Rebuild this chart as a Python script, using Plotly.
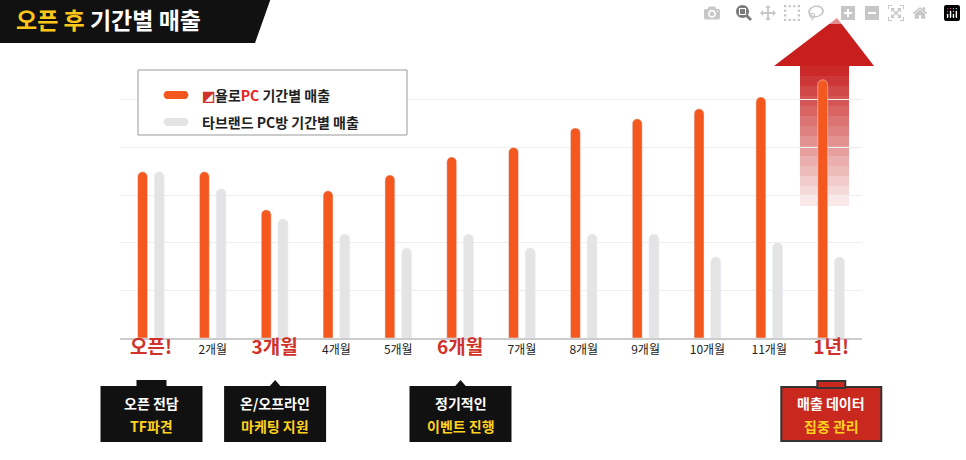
import plotly.graph_objects as go

months = ["오픈!", "2개월", "3개월", "4개월", "5개월", "6개월",
          "7개월", "8개월", "9개월", "10개월", "11개월", "1년!"]
yolo_sales = [3.49, 3.49, 2.69, 3.09, 3.42, 3.80, 4.00, 4.41, 4.60, 4.81, 5.06, 5.42]
other_sales = [3.49, 3.13, 2.50, 2.18, 1.89, 2.18, 1.89, 2.18, 2.18, 1.70, 2.00, 1.70]
highlight = {"오픈!", "3개월", "6개월", "1년!"}
callouts = [(0, "오픈 전담", "TF파견"), (2, "온/오프라인", "마케팅 지원"),
            (5, "정기적인", "이벤트 진행"), (11, "매출 데이터", "집중 관리")]

W, H = 966, 460
L, R, T, B = 120, 104, 76, 122
PW, PH = W - L - R, H - T - B


def px_x(x):
    return (x - L) / PW


def px_y(y):
    return (H - B - y) / PH


def note(x, y, text, size, color, xanchor="center"):
    return dict(x=px_x(x), y=px_y(y), xref="paper", yref="paper", text=text,
                showarrow=False, xanchor=xanchor, yanchor="middle",
                font=dict(color=color, size=size))


ticktext = []
for m in months:
    if m in highlight:
        ticktext.append(f"<b><span style='font-size:19px;color:#d0322a'>{m}</span></b>")
    else:
        ticktext.append(m)

xs = list(range(len(months)))
fig = go.Figure()
fig.add_bar(x=xs, y=yolo_sales, width=0.16, offset=-0.215,
            marker=dict(color="#f4581e", cornerradius=5), name="yolo")
fig.add_bar(x=xs, y=other_sales, width=0.16, offset=0.055,
            marker=dict(color="#e4e4e4", cornerradius=5), name="other")

shapes = []
# title banner
shapes.append(dict(type="path", xref="paper", yref="paper",
                   path=f"M {px_x(-5)},{px_y(-5)} L {px_x(272)},{px_y(-5)} "
                        f"L {px_x(255)},{px_y(43)} L {px_x(-5)},{px_y(43)} Z",
                   fillcolor="#111", line_width=0, layer="above"))
# legend box
shapes.append(dict(type="rect", xref="paper", yref="paper",
                   x0=px_x(138), x1=px_x(407), y0=px_y(70), y1=px_y(135),
                   fillcolor="white", line=dict(color="#999", width=1), layer="above"))
for yy, col in [(95, "#f4581e"), (122, "#e4e4e4")]:
    shapes.append(dict(type="path", xref="paper", yref="paper",
                       path=f"M {px_x(166)},{px_y(yy - 4)} L {px_x(186)},{px_y(yy - 4)} "
                            f"Q {px_x(191)},{px_y(yy)} {px_x(186)},{px_y(yy + 4)} "
                            f"L {px_x(166)},{px_y(yy + 4)} "
                            f"Q {px_x(161)},{px_y(yy)} {px_x(166)},{px_y(yy - 4)} Z",
                       fillcolor=col, line_width=0, layer="above"))
# arrow
red = "200,30,30"
shapes.append(dict(type="path", xref="paper", yref="paper",
                   path=f"M {px_x(837)},{px_y(18)} L {px_x(874)},{px_y(66)} "
                        f"L {px_x(774)},{px_y(66)} Z",
                   fillcolor=f"rgb({red})", line_width=0, layer="below"))
n = 14
for i in range(n):
    y0 = 66 + i * (140 / n)
    shapes.append(dict(type="rect", xref="paper", yref="paper",
                       x0=px_x(800), x1=px_x(849), y0=px_y(y0), y1=px_y(y0 + 140 / n),
                       fillcolor=f"rgba({red},{0.95 - i * 0.065:.2f})",
                       line_width=0, layer="below"))
# callout boxes
annotations = []
for idx, l1, l2 in callouts:
    cx = 151.5 + idx * 61.8
    last = idx == 11
    fill = "#c8281e" if last else "#111"
    edge = "#333" if last else fill
    shapes.append(dict(type="rect", xref="paper", yref="paper",
                       x0=px_x(cx - 50), x1=px_x(cx + 50), y0=px_y(387), y1=px_y(441),
                       fillcolor=fill, line=dict(color=edge, width=2), layer="above"))
    if idx in (0, 11):
        shapes.append(dict(type="rect", xref="paper", yref="paper",
                           x0=px_x(cx - 14), x1=px_x(cx + 14), y0=px_y(381), y1=px_y(388),
                           fillcolor=fill, line=dict(color=edge, width=2), layer="above"))
    else:
        shapes.append(dict(type="path", xref="paper", yref="paper",
                           path=f"M {px_x(cx - 7)},{px_y(388)} L {px_x(cx)},{px_y(380)} "
                                f"L {px_x(cx + 7)},{px_y(388)} Z",
                           fillcolor=fill, line_width=0, layer="above"))
    annotations.append(note(cx, 403, f"<b>{l1}</b>", 14, "white"))
    annotations.append(note(cx, 426, f"<b>{l2}</b>", 14, "#ffd21e"))

annotations.append(note(14, 19, "<b><span style='color:#ffc61a'>오픈 후</span> 기간별 매출</b>",
                        23, "white", "left"))
annotations.append(note(200, 95, "<b><span style='color:#d0322a'>◩</span>욜로"
                                 "<span style='color:#e8231e'>PC</span> 기간별 매출</b>",
                        14, "#222", "left"))
annotations.append(note(200, 122, "<b>타브랜드 PC방 기간별 매출</b>", 14, "#222", "left"))

fig.update_layout(
    width=W, height=H, margin=dict(l=L, r=R, t=T, b=B),
    paper_bgcolor="white", plot_bgcolor="white", showlegend=False,
    font=dict(family="Noto Sans CJK KR", color="#222", size=12),
    shapes=shapes, annotations=annotations,
)
fig.update_xaxes(tickvals=xs, ticktext=ticktext, range=[-0.5, 11.5],
                 showgrid=False, showline=True, linecolor="#ccc", linewidth=2,
                 ticks="", tickfont=dict(size=12))
fig.update_yaxes(range=[0, 5.5], dtick=1, showticklabels=False, gridcolor="#eee",
                 zeroline=False)
fig.write_html("out.html", post_script="document.body.style.margin='0';")
